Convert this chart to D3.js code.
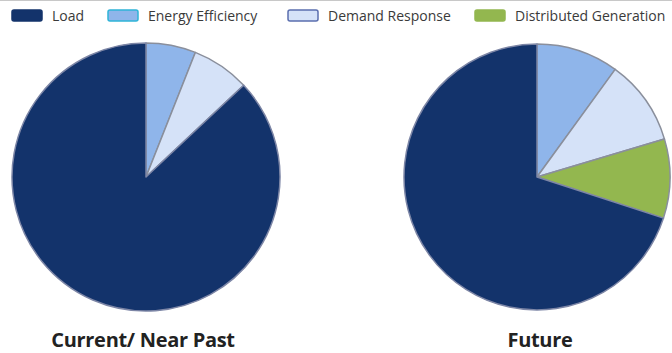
<!DOCTYPE html>
<html>
<head>
<meta charset="utf-8">
<script src="https://cdn.jsdelivr.net/npm/d3@7"></script>
<style>
  body { margin: 0; background: #fff; }
  svg text { font-family: "Open Sans", "Noto Sans", sans-serif; }
</style>
</head>
<body>
<div id="chart"></div>
<script>
// categories, legend order
const categories = [ "Load", "Energy Efficiency", "Demand Response", "Distributed Generation" ];
const fills = [ "#13336b", "#8fb5ea", "#d5e2f8", "#93b74f" ];
const swatchStrokes = [ "#13336b", "#2fb4d8", "#5b6fae", "#93b74f" ];

// share of each category (percent), same order as categories
const currentValues = [ 87, 6, 7, 0 ];
const futureValues = [ 70, 10, 10.4, 9.6 ];

const pieTitles = [ "Current/ Near Past", "Future" ];

const svgWidth = 672, svgHeight = 353;
const svg = d3.select( "#chart" ).append( "svg" )
  .attr( "width", svgWidth )
  .attr( "height", svgHeight );

// thin rule at top
svg.append( "line" )
  .attr( "x1", 0 ).attr( "x2", svgWidth )
  .attr( "y1", 0.5 ).attr( "y2", 0.5 )
  .attr( "stroke", "#c8c8c8" );

// legend
const legendX = [ 12, 108, 288, 475 ];
const legend = svg.append( "g" ).selectAll( "g" )
  .data( categories )
  .enter().append( "g" )
  .attr( "transform", ( d, i ) => `translate(${legendX[ i ]}, 10)` );

legend.append( "rect" )
  .attr( "width", 30 ).attr( "height", 11 )
  .attr( "rx", 2 )
  .attr( "fill", ( d, i ) => fills[ i ] )
  .attr( "stroke", ( d, i ) => swatchStrokes[ i ] )
  .attr( "stroke-width", 1.5 );

legend.append( "text" )
  .attr( "x", 40 ).attr( "y", 11 )
  .attr( "font-size", 14 )
  .attr( "fill", "#3a3a3a" )
  .text( d => d );

// pies: slices drawn clockwise from 12 o'clock, Load last
const pieOrder = [ 1, 2, 3, 0 ];

function drawPie ( values, cx, cy, r, title, titleX ) {
  const slices = d3.pie()
    .sort( null )
    .value( i => values[ i ] )( pieOrder );

  const arc = d3.arc().innerRadius( 0 ).outerRadius( r );
  const g = svg.append( "g" ).attr( "transform", `translate(${cx}, ${cy})` );

  g.selectAll( "path" )
    .data( slices.filter( s => s.value > 0 ) )
    .enter().append( "path" )
    .attr( "d", arc )
    .attr( "fill", s => fills[ s.data ] )
    .attr( "stroke", s => s.data === 0 ? "#7d86a6" : "#8a8f9c" )
    .attr( "stroke-width", 1.5 )
    .attr( "stroke-linejoin", "round" );

  svg.append( "text" )
    .attr( "x", titleX ).attr( "y", 347 )
    .attr( "text-anchor", "middle" )
    .attr( "font-size", 20 )
    .attr( "letter-spacing", -0.3 )
    .attr( "font-weight", "bold" )
    .attr( "fill", "#222" )
    .text( title );
}

drawPie( currentValues, 146, 177, 134, pieTitles[ 0 ], 143 );
drawPie( futureValues, 537, 177, 133, pieTitles[ 1 ], 540 );
</script>
</body>
</html>
